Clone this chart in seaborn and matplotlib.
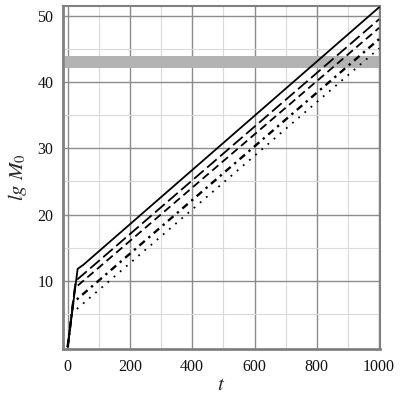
import matplotlib
matplotlib.use("Agg")
import matplotlib.pyplot as plt
import seaborn as sns
import pandas as pd
import numpy as np

sns.set_style("white")
plt.rcParams['font.family'] = ['Liberation Serif', 'DejaVu Serif']
plt.rcParams['mathtext.fontset'] = 'stix'

# Data
t_solid = [0, 32, 50, 1000]
v_solid = [0, 11.8, 12.4, 51.3]
t_dash_long = [0, 26, 1000]
v_dash_long = [0, 10.0, 49.5]
t_dash_med = [0, 23, 1000]
v_dash_med = [0, 8.9, 48.2]
t_dashdot = [0, 17.5, 1000]
v_dashdot = [0, 6.7, 46.5]
t_dot = [0, 13.5, 1000]
v_dot = [0, 5.1, 45.1]
band_low, band_high = 42.1, 44.0
band_t = [-7, 1000]

x_major = [0, 200, 400, 600, 800, 1000]
y_major = [10, 20, 30, 40, 50]

fig = plt.figure(figsize=(4, 4), dpi=100)
ax = fig.add_axes([0.1575, 0.1275, 0.7925, 0.8575])

ax.fill_between(band_t, band_low, band_high, color='#b3b3b3', lw=0, zorder=1)

series = [
    (t_solid, v_solid, dict(linestyle='-', lw=1.3)),
    (t_dash_long, v_dash_long, dict(dashes=(7, 2.5), lw=1.3)),
    (t_dash_med, v_dash_med, dict(dashes=(4.5, 2.5), lw=1.3)),
    (t_dashdot, v_dashdot, dict(dashes=(3, 2, 1, 2), lw=1.7)),
    (t_dot, v_dot, dict(dashes=(1, 3.5), lw=1.3)),
]
for t, v, style in series:
    df = pd.DataFrame({'t': t, 'v': v})
    sns.lineplot(data=df, x='t', y='v', sort=False, color='black', ax=ax,
                 zorder=3, **style)

ax.set_xlim(-15, 1003)
ax.set_ylim(-0.3, 51.5)
ax.set_xticks(x_major)
ax.set_xticks(np.arange(100, 1000, 200), minor=True)
ax.set_yticks(y_major)
ax.set_yticks(np.arange(5, 50, 10), minor=True)
ax.grid(which='major', color='#8c8c8c', lw=1.0, zorder=0)
ax.grid(which='minor', color='#dadada', lw=0.8, zorder=0)
ax.set_axisbelow(True)

for s in ['left', 'bottom']:
    ax.spines[s].set_color('#808080')
    ax.spines[s].set_linewidth(2.0)
for s in ['top', 'right']:
    ax.spines[s].set_color('#808080')
    ax.spines[s].set_linewidth(1.5)

ax.tick_params(axis='both', which='major', direction='out', length=4, width=1,
               color='#333333', labelsize=11.5, labelcolor='#111111', pad=3)
ax.tick_params(axis='both', which='minor', direction='out', length=3, width=1,
               color='#333333')

ax.set_xlabel(r'$t$', fontsize=15, labelpad=1)
ax.set_ylabel(r'$lg\ M_0$', fontsize=15, labelpad=6)

fig.savefig('out.png', dpi=100)
